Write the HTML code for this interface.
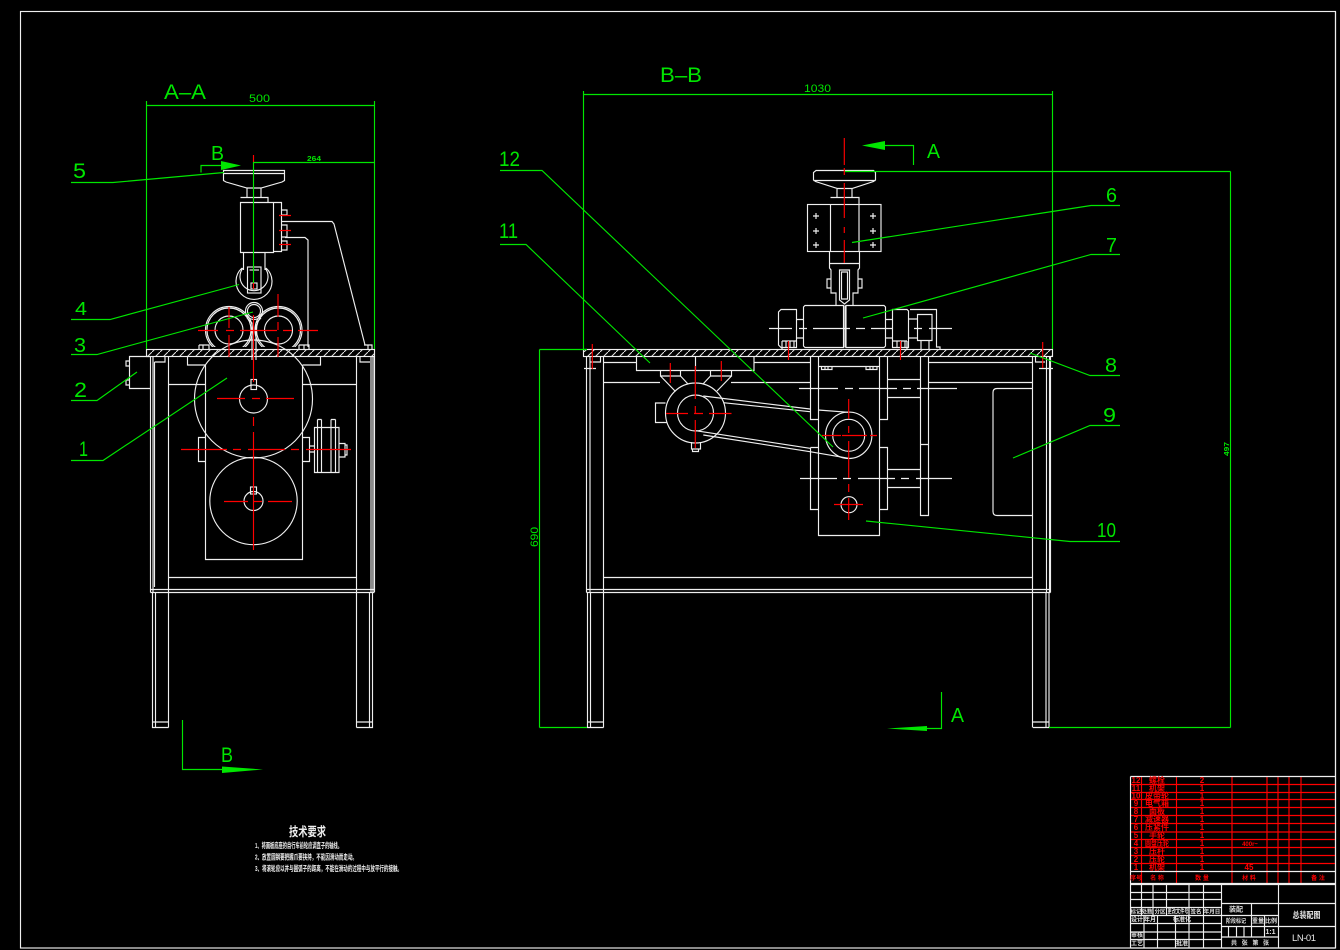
<!DOCTYPE html>
<html><head><meta charset="utf-8"><style>
html,body{margin:0;padding:0;background:#000;width:1340px;height:950px;overflow:hidden}
svg{display:block}
.w{stroke:#efefef;fill:none;stroke-width:1.15}
.g{stroke:#00e600;fill:none;stroke-width:1.15}
.r{stroke:#ff0000;fill:none;stroke-width:1.15}
.rt{stroke:#ff0000;fill:none;stroke-width:1.15}
text{font-family:"Liberation Sans","Noto Sans CJK SC",sans-serif}
.gt{fill:#00e600}
.rx{fill:#f00;font-size:8px;text-anchor:middle;font-weight:bold}
.wx{fill:#e0e0e0;font-size:6px;text-anchor:middle;font-weight:bold}
</style></head><body>
<svg width="1340" height="950" viewBox="0 0 1340 950" xmlns="http://www.w3.org/2000/svg">
<defs>
<pattern id="h" patternUnits="userSpaceOnUse" width="8" height="8"><path d="M0 8L8 0" stroke="#e6e6e6" stroke-width="1"/></pattern>
<clipPath id="c"><rect x="190" y="290" width="130" height="57"/></clipPath>
</defs>
<rect width="1340" height="950" fill="#000"/>
<rect x="20.5" y="11.5" width="1315" height="936.5" class="w"/>

<!-- ===== LEFT VIEW A-A ===== -->
<g class="w">
<rect x="146.5" y="349.5" width="228" height="7" fill="url(#h)"/>
<path d="M223.500 170.500H284.500V180.500L282 182L261 188H247L226 182L223.500 180.500ZM223.500 173.500H284.500M247 188V197M261 188V197M240.500 197.500H268V202M240.500 202.500H273.500V252.500H240.500ZM273.500 202.500H281.500V251.500H273.500M281.500 210H287V215H281.500M281.500 225H287V237H281.500M281.500 241H287V250H281.500M282 221.500H332L334 224L365 345M285 237.500H305L308 240V347"/>
<path d="M243.500 252.500V270M265 252.500V270"/>
<path d="M242 268A18 18 0 1 0 266 268M243 268A14 14 0 1 0 265 268"/>
<rect x="247.500" y="267" width="13.500" height="26"/><rect x="251" y="283" width="6" height="6"/><path d="M249.500 270H259"/>
<circle cx="254" cy="311" r="8.500"/><circle cx="254" cy="311" r="6.500"/>
<path d="M247 318L252 323V360M261 318L256 323V360"/>
<g clip-path="url(#c)">
<circle cx="229" cy="330" r="23.500"/><circle cx="229" cy="330" r="22"/>
<circle cx="278.500" cy="330" r="23.500"/><circle cx="278.500" cy="330" r="22"/>
</g>
<circle cx="229" cy="330" r="14"/><circle cx="278.500" cy="330" r="14"/>
<path d="M199 345H209V349M199 349V345M203 345V349M299 345H309V349M299 349V345M304 345V349M364 345H372V349M368 345V349"/>
<!-- frame -->
<path d="M150.500 356.500V592.500M153 356.500V592.500M154.500 362V587M168.500 356.500V727.500M356.500 356.500V727.500M371 356.500V592M373 356.500V592M374.500 356.500V592"/>
<path d="M154.500 362H165V357M360 357V362H370M168.500 384.500H205.500M302.500 384.500H356.500M168.500 577.500H356.500M150.500 589.500H374.500M150.500 592.500H374.500M187.500 356.500V365H205.500M320.500 356.500V365H302.500"/>
<path d="M152.500 592.500V727.500H168.500M155.500 592.500V727.500M356.500 727.500H372.500V592.500M369.500 592.500V727.500M152.500 722H168.500M356.500 722H372.500"/>
<path d="M150 356.500H129.500V388.500H150M129.500 361H126V366H129.500M129.500 380H126V385H129.500"/>
<!-- gearbox -->
<path d="M205.500 365V559.500H302.500V365"/>
<circle cx="253.500" cy="399" r="59"/><circle cx="253.500" cy="399" r="14"/>
<rect x="251" y="379.500" width="5.500" height="10"/>
<circle cx="253.500" cy="501" r="43.700"/><circle cx="253.500" cy="501" r="9.500"/>
<rect x="250.500" y="487" width="6" height="7"/>
<path d="M205.500 437.500H198.500V461.500H205.500M302.500 437.500H309.500V461.500H302.500M309.500 446H315M309.500 452H315M314.500 427.500H339V472.500H314.500ZM317.500 419.500V472.500M321.500 419.500V472.500M317.500 419.500H321.500M331 419.500V472.500M335.500 419.500V472.500M331 419.500H335.500M339 443.500H345V457H339M345 445H347V455H345"/>
</g>
<g class="r">
<path d="M253.500 155V162M253.500 283V289M253.500 315V382M253.500 417V426M253.500 432V550"/>
<path d="M229 307V328M229 335V357M278 294V317M278 322V330M278 337V357M198 330.500H218M226 330.500H234M240 330.500H277M283 330.500H292M298 330.500H318"/>
<path d="M279 215.500H291M279 230.500H291M279 244.500H291"/>
<path d="M217 398.500H245M252 398.500H260M266 398.500H294M181 449.500H227M233 449.500H241M248 449.500H285M291 449.500H299M306 449.500H351M224 501.500H248M253 501.500H262M268 501.500H292"/>
</g>

<!-- ===== RIGHT VIEW B-B ===== -->
<g class="w">
<rect x="583.500" y="349.500" width="469" height="7" fill="url(#h)"/>
<path d="M816 170.500H873.500L875.500 172.500V180L873.500 181.500L852 188.500H837.500L815.500 181.500L813.500 180V172.500ZM813.500 180.500H875.500M837 189V197M852 189V197M830.500 197.500H859V204M830.500 204.500V251.500M859 204.500V251.500"/>
<rect x="807.500" y="204.500" width="73.500" height="47"/>
<path d="M813 216H819M816 213V219M870 216H876M873 213V219M813 231H819M816 228V234M870 231H876M873 228V234M813 245H819M816 242V248M870 245H876M873 242V248"/>
<path d="M829.500 251.500V268L831 270V293H836V305M859.500 251.500V268L858 270V293H853V305M829.500 263.500H859.500M831 279H827V288H831M858 279H862V288H858"/>
<path d="M839.500 270H849.500V300L844.500 304L839.500 300ZM841.500 272H847.500V299H841.500Z"/>
<path d="M805 305.500H843.500V347.500H805L803.500 346V307ZM846 305.500H884L885.500 307V346L884 347.500H846ZM845 305.500V347.500"/>
<path d="M781 309.500H796.500V347.500H781L778.500 345V312ZM796.500 319.500H803.500M796.500 338H803.500M885.500 319.500H892M885.500 338H892M892.500 309.500H907L908.500 311V347.500H892.500ZM909 319H917M909 338H917M917.500 314.500H932V340.500H917.500ZM910 309.500H936.500V347H940V349.500M921 340.500V349M929 340.500V349"/>
<path d="M782 341H796M786 341V347M790 341V347M794 341V347M782 349V341M893 341H907M897 341V347M901 341V347M905 341V347M907 341V349"/>
<path d="M769 328.500H792M799 328.500H807M813 328.500H850M856 328.500H865M871 328.500H893M914 328.500H922M929 328.500H952"/>
<!-- frame -->
<path d="M586.500 356.500V592.500M590 356.500V592.500M603.500 356.500V727.500M1032.500 356.500V727.500M1046.500 356.500V592.500M1049.500 356.500V592.500M1050.500 356.500V592.500"/>
<path d="M590 362H600.500V357M1035.500 357V362H1045M584 368.500H596M1039 368.500H1053"/>
<path d="M603.500 362.500H636.500M754 362.500H810.500M928.500 362.500H1032.500M603.500 382.500H660M731 382.500H810.500M928.500 382.500H1032.500M603.500 577.500H1032.500M586.500 589.500H1050.500M586.500 592.500H1050.500"/>
<path d="M587.500 592.500V727.500H603.500M590.500 592.500V727.500M1033 727.500H1049V592.500M1046 592.500V727.500M587.500 722H603.500M1033 722H1049"/>
<!-- motor group -->
<path d="M636.500 356.500V370.500H754V356.500M695.500 356.500V370.500"/>
<path d="M660.500 370.500V376H680.500V370.500M710.500 370.500V376H731.500V370.500M660.500 376L675.500 391.500M680.500 376L688 384M710.500 376L703 384M731.500 376L717 391"/>
<circle cx="695.500" cy="413" r="30"/><circle cx="695.500" cy="413" r="18"/>
<path d="M665.500 403H655.500V422.500H667M691.500 442V449H700.500V442M692.500 449V451.500H698.500V449"/>
<path d="M703.300 396L810 409M818 410L848.700 412.300M723.300 402.700L810 411.700M695.700 430.700L810 448.300M703.300 435L810 451.700L848.700 458.300"/>
<circle cx="848.700" cy="435.300" r="23.200"/><circle cx="848.700" cy="435.300" r="16"/>
<circle cx="849" cy="504.700" r="8"/>
<!-- columns -->
<path d="M818.500 356.500V535.500H879.500V356.500M810.500 356.500V419.500H818.500M810.500 447.500H818.500M810.500 447.500V509.500H818.500M879.500 419.500H887.500V356.500M879.500 447.500H887.500V509.500H879.500"/>
<path d="M887.500 379.500H920M887.500 397.500H920M887.500 469.500H920M887.500 487.500H920M920.500 356.500V515.500H928.500V356.500M920.500 444.500H928.500"/>
<path d="M818.500 366.500H879.500M821.500 366.500V369.500H832V366.500M825 366.500V369.500M828 366.500V369.500M866 366.500V369.500H877V366.500M870 366.500V369.500M873 366.500V369.500"/>
<path d="M799 388.500H838M845 388.500H853M859 388.500H897M903 388.500H911M917 388.500H957M800 478.500H837M843 478.500H851M858 478.500H895M901 478.500H909M916 478.500H952"/>
<path d="M1032 388.500H997Q993 388.500 993 392.500V511.500Q993 515.500 997 515.500H1032"/>
</g>
<g class="r">
<path d="M844.300 138V165M844.300 168V175M844.300 183V218M844.300 227V233M844.300 240V263"/>
<path d="M788.500 341V360M900.500 341V360M592.300 344V369M1042.700 342V368M670.300 363V383M721.300 361V381M695.300 366V399M695.300 406V413M695.300 420V448"/>
<path d="M666 413.500H688M694 413.500H703M709 413.500H731.500"/>
<path d="M848.700 399V419M848.700 426V433M848.700 441V478M848.700 484V492M848.700 498V520M822 435.500H841M842 435.500H867M870 435.500H877M834 504.500H863"/>
</g>

<!-- ===== GREEN DIMENSIONS ===== -->
<g class="g">
<path d="M146.500 101V349M374.500 101V349M146.500 105.500H374.500M253.500 162.500H374.500"/>
<path d="M253.500 162V283"/>
<path d="M71 182.500H113L224 172.500M71 319.500H110L239 284.500M71 354.500H97L253 312M71 400.500H97L137 372M71 460.500H103L227 378"/>
<path d="M201 172.500V165.500H222"/>
<path d="M583.500 91V349M1052.500 91V349M583.500 94.500H1052.500M845 171.500H1230.500M1049 727.500H1230.500M1230.500 171.500V727.500M539.500 349.500H587M539.500 727.500H587M539.500 349.500V727.500"/>
<path d="M500 170.500H542L833 447M500 244.500H526L650 363M1120 205.500H1091L852 242.500M1120 254.500H1091L863 318M1120 375.500H1090L1030 353M1120 425.500H1090L1013 458M1120 541.500H1070L866 521"/>
<path d="M885 145.500H913.500V165M182.500 720V769.500H222M941.500 692V728.500H927"/>
</g>
<g fill="#00e600" stroke="none">
<path d="M221 161L241 165.500L221 170Z"/>
<path d="M862 145.500L885 141V150Z"/>
<path d="M222 766.500L263 769.500L222 773Z"/>
<path d="M887 728.500L927 726V731Z"/>
</g>
<g class="gt">
<text x="164" y="99" font-size="21" textLength="42" lengthAdjust="spacingAndGlyphs">A–A</text>
<text x="249" y="102" font-size="11" textLength="21" lengthAdjust="spacingAndGlyphs">500</text>
<text x="307" y="161" font-size="7.500" font-weight="bold" textLength="14" lengthAdjust="spacingAndGlyphs">264</text>
<text x="211" y="160" font-size="20" textLength="13" lengthAdjust="spacingAndGlyphs">B</text>
<text x="73" y="178" font-size="21" textLength="13" lengthAdjust="spacingAndGlyphs">5</text>
<text x="75" y="315" font-size="18" textLength="12" lengthAdjust="spacingAndGlyphs">4</text>
<text x="74" y="352" font-size="20" textLength="12" lengthAdjust="spacingAndGlyphs">3</text>
<text x="74" y="397" font-size="21" textLength="13" lengthAdjust="spacingAndGlyphs">2</text>
<text x="79" y="456" font-size="21" textLength="9" lengthAdjust="spacingAndGlyphs">1</text>
<text x="660" y="82" font-size="21" textLength="42" lengthAdjust="spacingAndGlyphs">B–B</text>
<text x="804" y="92" font-size="11" textLength="27" lengthAdjust="spacingAndGlyphs">1030</text>
<text x="927" y="158" font-size="20" textLength="13" lengthAdjust="spacingAndGlyphs">A</text>
<text x="499" y="166" font-size="21" textLength="21" lengthAdjust="spacingAndGlyphs">12</text>
<text x="499" y="238" font-size="21" textLength="19" lengthAdjust="spacingAndGlyphs">11</text>
<text x="1106" y="202" font-size="20" textLength="11" lengthAdjust="spacingAndGlyphs">6</text>
<text x="1106" y="252" font-size="20" textLength="11" lengthAdjust="spacingAndGlyphs">7</text>
<text x="1105" y="372" font-size="20" textLength="12" lengthAdjust="spacingAndGlyphs">8</text>
<text x="1103" y="422" font-size="20" textLength="13" lengthAdjust="spacingAndGlyphs">9</text>
<text x="1097" y="537" font-size="20" textLength="19" lengthAdjust="spacingAndGlyphs">10</text>
<text x="221" y="762" font-size="21" textLength="12" lengthAdjust="spacingAndGlyphs">B</text>
<text x="951" y="722" font-size="20" textLength="13" lengthAdjust="spacingAndGlyphs">A</text>
<text transform="translate(538,547) rotate(-90)" font-size="11" textLength="20" lengthAdjust="spacingAndGlyphs">690</text>
<text transform="translate(1229,456) rotate(-90)" font-size="7.500" font-weight="bold" textLength="14" lengthAdjust="spacingAndGlyphs">497</text>
</g>

<!-- ===== TECH NOTES ===== -->
<g fill="#efefef">
<text x="289" y="836" font-size="12.500" font-weight="bold" textLength="37" lengthAdjust="spacingAndGlyphs">技术要求</text>
<text x="255" y="848" font-size="7.500" font-weight="bold" textLength="87" lengthAdjust="spacingAndGlyphs">1、将面板底座的自行车前轮应调直子的轴线。</text>
<text x="255" y="859.500" font-size="7.500" font-weight="bold" textLength="102" lengthAdjust="spacingAndGlyphs">2、放置圆钢要把握爪要挟持，不能因滑动而走动。</text>
<text x="255" y="871" font-size="7.500" font-weight="bold" textLength="147" lengthAdjust="spacingAndGlyphs">3、将滚轮应以并与圆弧子的距离，不能在滑动的过程中与放平行的接触。</text>
</g>

<!-- ===== PARTS LIST ===== -->
<g class="rt">
<path d="M1130.500 784.500H1335M1130.500 792.500H1335M1130.500 799.500H1335M1130.500 807.500H1335M1130.500 815.500H1335M1130.500 823.500H1335M1130.500 832H1335M1130.500 839.500H1335M1130.500 847.500H1335M1130.500 855.500H1335M1130.500 863.500H1335"/>
<path d="M1141.500 776V884M1176.500 776V884M1232 776V884M1267 776V884M1278 776V884M1289 776V884M1301 776V884"/>
</g>
<g class="w"><path d="M1130.500 776.500H1335M1130.500 776.500V884M1130.500 871.500H1335M1130.500 883.500H1335"/></g>
<g class="rx">
<text x="1136" y="783">12</text><text x="1157" y="783">螺栓</text><text x="1202" y="783">2</text>
<text x="1136" y="791">11</text><text x="1157" y="791">机架</text><text x="1202" y="791">1</text>
<text x="1136" y="798.500">10</text><text x="1157" y="798.500">皮带轮</text><text x="1202" y="798.500">1</text>
<text x="1136" y="806">9</text><text x="1157" y="806">电气箱</text><text x="1202" y="806">1</text>
<text x="1136" y="814">8</text><text x="1157" y="814">面板</text><text x="1202" y="814">1</text>
<text x="1136" y="822">7</text><text x="1157" y="822">减速器</text><text x="1202" y="822">1</text>
<text x="1136" y="830">6</text><text x="1157" y="830">压紧件</text><text x="1202" y="830">1</text>
<text x="1136" y="838">5</text><text x="1157" y="838">手轮</text><text x="1202" y="838">1</text>
<text x="1136" y="846">4</text><text x="1157" y="846" textLength="24" lengthAdjust="spacingAndGlyphs">圆盘压轮</text><text x="1202" y="846">1</text><text x="1250" y="846" font-size="6">400r~</text>
<text x="1136" y="854">3</text><text x="1157" y="854">压杆</text><text x="1202" y="854">1</text>
<text x="1136" y="862">2</text><text x="1157" y="862">压轮</text><text x="1202" y="862">1</text>
<text x="1136" y="870">1</text><text x="1157" y="870">机架</text><text x="1202" y="870">1</text><text x="1249" y="870">45</text>
<text x="1136" y="880" font-size="6">序号</text><text x="1157" y="880" font-size="6">名 称</text><text x="1202" y="880" font-size="6">数 量</text><text x="1249" y="880" font-size="6">材 料</text><text x="1318" y="880" font-size="6">备 注</text>
</g>

<!-- ===== TITLE BLOCK ===== -->
<g class="w">
<path d="M1130.500 884.500H1335M1130.500 892.500H1221M1130.500 899.500H1221M1130.500 907.500H1221M1130.500 915.500H1278.500M1130.500 923.500H1221M1130.500 932H1221M1130.500 939.500H1221M1130.500 948H1335"/>
<path d="M1130.500 884V948M1141.500 884V915M1153 884V915M1166.500 884V915M1189 884V948M1203.500 884V948M1221.500 884V948"/>
<path d="M1144 915V948M1157.500 915V948M1175.500 915V948"/>
<path d="M1221.500 903.500H1335M1221.500 926.500H1335M1221.500 937H1278.500M1278.500 884V948M1251.500 903.500V915.500"/>
<path d="M1251.500 915.500V937M1264.500 915.500V937M1228.500 926.500V937M1236.500 926.500V937M1244 926.500V937"/>
<path d="M1335.500 12V948"/>
</g>
<g class="wx" font-size="5.500">
<text x="1136" y="913.500" font-size="5.500">标记</text><text x="1147" y="913.500" font-size="5.500">处数</text><text x="1160" y="913.500" font-size="5.500">分区</text><text x="1178" y="913.500" textLength="21" lengthAdjust="spacingAndGlyphs">更改文件号</text><text x="1196" y="913.500" font-size="5.500">签名</text><text x="1212" y="913.500" font-size="5.500">年月日</text>
<text x="1137" y="921.500">设计</text><text x="1150" y="921.500">年月</text><text x="1182" y="921.500">标准化</text>
<text x="1137" y="937">审核</text><text x="1137" y="945.500">工艺</text><text x="1182" y="945.500">批准</text>
<text x="1236" y="911.500" font-size="7">装配</text>
<text x="1236" y="923" textLength="20" lengthAdjust="spacingAndGlyphs">阶段标记</text><text x="1258" y="923">重量</text><text x="1271" y="923">比例</text>
<text x="1270.500" y="934" font-size="7">1:1</text>
<text x="1250" y="945" textLength="38" lengthAdjust="spacing">共 张 第 张</text>
</g>
<text x="1306.500" y="918" fill="#e6e6e6" font-size="8.500" font-weight="bold" text-anchor="middle" textLength="28" lengthAdjust="spacingAndGlyphs">总装配图</text>
<text x="1304" y="941" fill="#e6e6e6" font-size="9.500" text-anchor="middle" textLength="24">LN-01</text>
</svg>
</body></html>
